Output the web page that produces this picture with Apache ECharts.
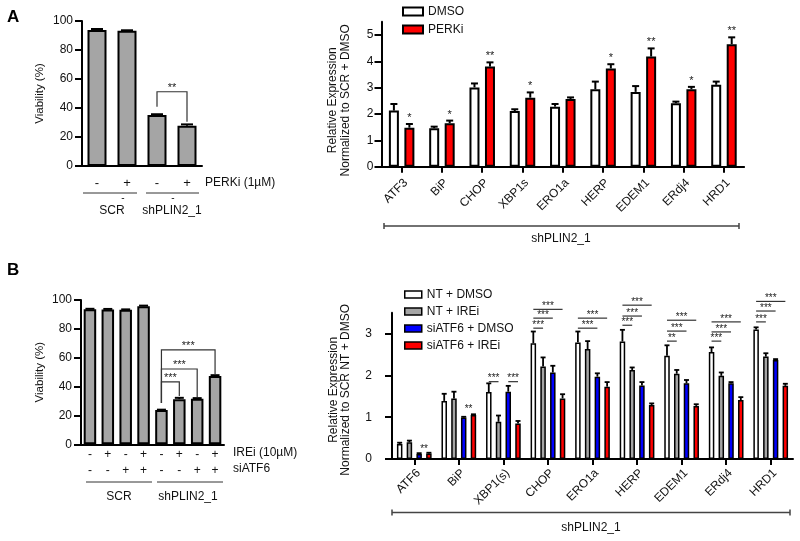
<!DOCTYPE html>
<html><head><meta charset="utf-8">
<script src="https://cdn.jsdelivr.net/npm/echarts@6/dist/echarts.min.js"></script>
<style>html,body{margin:0;padding:0;background:#fff}#c{width:800px;height:541px}</style>
</head><body><div id="c"></div><script>
// ================= DATA =================
// Panel A (left): viability
const aLeftPERKi = ['-', '+', '-', '+'];
const aLeftViability = [93.8, 93.3, 35.2, 27.8];
const aLeftErrTop = [94.5, 93.6, 35.7, 28.7];
const aLeftBrackets = [[2, 3, 40.9, 30.6, 51.2]];      // [catA, catB, yA, yB, yTop]
const aLeftBracketLabels = ['**'];

// Panel A (right): relative expression
const aGenes = ['ATF3', 'BiP', 'CHOP', 'XBP1s', 'ERO1a', 'HERP', 'EDEM1', 'ERdj4', 'HRD1'];
const aDMSO = [2.13, 1.46, 3.01, 2.11, 2.28, 2.94, 2.84, 2.41, 3.11];
const aDMSOErrTop = [2.38, 1.52, 3.16, 2.18, 2.38, 3.23, 3.06, 2.47, 3.23];
const aPERKi = [1.48, 1.65, 3.80, 2.62, 2.57, 3.73, 4.18, 2.94, 4.65];
const aPERKiErrTop = [1.62, 1.75, 3.96, 2.82, 2.63, 3.89, 4.49, 3.03, 4.91];
const aSig = ['*', '*', '**', '*', '', '*', '**', '*', '**'];
const aYTicks = [0, 1, 2, 3, 4, 5];

// Panel B (left): viability
const bIREi = ['-', '+', '-', '+', '-', '+', '-', '+'];
const bSiATF6 = ['-', '-', '+', '+', '-', '-', '+', '+'];
const bLeftViability = [93.6, 93.5, 93.2, 95.7, 23.7, 31.3, 31.5, 47.3];
const bLeftErrTop = [93.9, 93.8, 93.5, 96.1, 24.0, 32.2, 32.0, 47.9];
const bLeftBrackets = [[4, 5, 28.6, 33.5, 43.2], [4, 6, 28.6, 32.8, 52.2], [4, 7, 28.6, 48.0, 65.4]];
const bLeftBracketLabels = ['***', '***', '***'];

// Panel B (right): relative expression
const bGenes = ['ATF6', 'BiP', 'XBP1(s)', 'CHOP', 'ERO1a', 'HERP', 'EDEM1', 'ERdj4', 'HRD1'];
const ntDMSO = [0.36, 1.39, 1.60, 2.77, 2.79, 2.81, 2.47, 2.56, 3.10];
const ntDMSOErrTop = [0.39, 1.56, 1.81, 3.05, 3.05, 3.09, 2.72, 2.67, 3.15];
const ntIREi = [0.40, 1.45, 0.89, 2.21, 2.63, 2.13, 2.04, 1.99, 2.45];
const ntIREiErrTop = [0.44, 1.61, 1.04, 2.43, 2.82, 2.19, 2.13, 2.07, 2.53];
const siDMSO = [0.12, 0.99, 1.61, 2.07, 1.97, 1.76, 1.81, 1.81, 2.37];
const siDMSOErrTop = [0.14, 1.01, 1.75, 2.23, 2.05, 1.84, 1.89, 1.84, 2.39];
const siIREi = [0.13, 1.05, 0.85, 1.45, 1.73, 1.29, 1.27, 1.41, 1.75];
const siIREiErrTop = [0.15, 1.07, 0.91, 1.55, 1.84, 1.33, 1.31, 1.48, 1.80];
const bYTicks = [0, 1, 2, 3];
// [category, fromBar, toBar, y, drawLine]
const bRightSig = [
  [0, 2, 3, 0.24, 0], [1, 2, 3, 1.19, 0],
  [2, 0, 1, 1.85, 1], [2, 2, 3, 1.85, 1],
  [3, 0, 1, 3.13, 1], [3, 0, 2, 3.37, 1], [3, 0, 3, 3.58, 1],
  [4, 0, 2, 3.13, 1], [4, 0, 3, 3.37, 1],
  [5, 0, 1, 3.20, 1], [5, 0, 2, 3.42, 1], [5, 0, 3, 3.68, 1],
  [6, 0, 1, 2.82, 1], [6, 0, 2, 3.06, 1], [6, 0, 3, 3.32, 1],
  [7, 0, 1, 2.82, 1], [7, 0, 2, 3.04, 1], [7, 0, 3, 3.28, 1],
  [8, 0, 1, 3.28, 1], [8, 0, 2, 3.54, 1], [8, 0, 3, 3.77, 1]
];
const bRightSigLabels = ['**', '**', '***', '***', '***', '***', '***', '***', '***',
  '***', '***', '***', '**', '***', '***', '***', '***', '***', '***', '***', '***'];

// ================= CHART =================
const FF = "'Liberation Sans', Arial, Helvetica, sans-serif";
const chart = echarts.init(document.getElementById('c'), null, {renderer: 'canvas', width: 800, height: 541});

const AXL = {lineStyle: {color: '#000', width: 2}};
const TXT = '#111';

function errRender(spacing, nSlots, capW, lw) {
  return function (params, api) {
    const cat = api.value(0), v = api.value(1), t = api.value(2), slot = api.value(3);
    const off = (slot - (nSlots - 1) / 2) * spacing;
    const p0 = api.coord([cat, v]), p1 = api.coord([cat, t]);
    const x = p0[0] + off;
    const st = {stroke: '#000', lineWidth: lw};
    return {type: 'group', children: [
      {type: 'line', shape: {x1: x, y1: p0[1], x2: x, y2: p1[1]}, style: st},
      {type: 'line', shape: {x1: x - capW / 2, y1: p1[1], x2: x + capW / 2, y2: p1[1]}, style: st}
    ]};
  };
}
function bracketRender(labels) {
  return function (params, api) {
    const ca = api.value(0), cb = api.value(1);
    const p1 = api.coord([ca, api.value(2)]), p2 = api.coord([ca, api.value(4)]);
    const p3 = api.coord([cb, api.value(4)]), p4 = api.coord([cb, api.value(3)]);
    return {type: 'group', children: [
      {type: 'polyline', shape: {points: [p1, p2, p3, p4]}, style: {stroke: '#333', fill: null, lineWidth: 1.2}},
      {type: 'text', x: (p2[0] + p3[0]) / 2, y: p2[1] - 4,
        style: {text: labels[params.dataIndex], fontSize: 11, fontFamily: FF, fill: '#222', align: 'center', verticalAlign: 'middle'}}
    ]};
  };
}
function starRender(labels, spacing, nSlots, slot, dy) {
  return function (params, api) {
    const p = api.coord([api.value(0), api.value(1)]);
    const off = (slot - (nSlots - 1) / 2) * spacing;
    return {type: 'text', x: p[0] + off, y: p[1] - dy,
      style: {text: labels[params.dataIndex], fontSize: 11, fontFamily: FF, fill: '#222', align: 'center', verticalAlign: 'middle'}};
  };
}
function sigRender(labels, spacing, nSlots) {
  return function (params, api) {
    const cat = api.value(0), a = api.value(1), b = api.value(2), y = api.value(3), line = api.value(4);
    const p = api.coord([cat, y]);
    const xa = p[0] + (a - (nSlots - 1) / 2) * spacing;
    const xb = p[0] + (b - (nSlots - 1) / 2) * spacing;
    const children = [];
    if (line) children.push({type: 'line', shape: {x1: xa, y1: p[1], x2: xb, y2: p[1]}, style: {stroke: '#333', lineWidth: 1.2}});
    children.push({type: 'text', x: (xa + xb) / 2, y: line ? p[1] - 3 : p[1],
      style: {text: labels[params.dataIndex], fontSize: 10, fontFamily: FF, fill: '#222', align: 'center', verticalAlign: 'middle'}});
    return {type: 'group', children};
  };
}

const A_SP = 15.5, B_SP = 9.75;

const option = {
  animation: false,
  textStyle: {fontFamily: FF, color: TXT},
  grid: [
    {left: 82, top: 21, width: 120, height: 145, outerBoundsMode: 'none', containLabel: false},
    {left: 381.5, top: 21.8, width: 362.6, height: 144.9, outerBoundsMode: 'none', containLabel: false},
    {left: 81, top: 300, width: 143, height: 144.3, outerBoundsMode: 'none', containLabel: false},
    {left: 392, top: 312.7, width: 401, height: 146.3, outerBoundsMode: 'none', containLabel: false}
  ],
  legend: [
    {data: ['DMSO', 'PERKi'], orient: 'vertical', left: 402, top: 5, padding: 0, itemWidth: 20, itemHeight: 8, itemGap: 5,
      icon: 'rect', itemStyle: {borderColor: '#000', borderWidth: 2},
      textStyle: {fontSize: 12, fontFamily: FF, color: TXT, lineHeight: 13}},
    {data: ['NT + DMSO', 'NT + IREi', 'siATF6 + DMSO', 'siATF6 + IREi'], orient: 'vertical', left: 404, top: 288, padding: 0,
      itemWidth: 17, itemHeight: 7, itemGap: 4, icon: 'rect', itemStyle: {borderColor: '#000', borderWidth: 1.5},
      textStyle: {fontSize: 12, fontFamily: FF, color: TXT, lineHeight: 13}}
  ],
  xAxis: [
    {type: 'category', gridIndex: 0, data: aLeftPERKi.map((s, i) => 'a' + i), axisLine: AXL, axisTick: {show: false},
      axisLabel: {formatter: (v, i) => aLeftPERKi[i], fontSize: 13, margin: 11, color: TXT}},
    {type: 'category', gridIndex: 1, data: aGenes, axisLine: AXL,
      axisTick: {show: true, alignWithLabel: true, length: 6, lineStyle: {width: 2, color: '#000'}},
      axisLabel: {rotate: 45, fontSize: 12, margin: 10, color: TXT, interval: 0, verticalAlign: 'top'}},
    {type: 'category', gridIndex: 2, data: bIREi.map((s, i) => 'b' + i), axisLine: AXL, axisTick: {show: false},
      axisLabel: {formatter: (v, i) => bIREi[i] + '\n' + bSiATF6[i], fontSize: 12, lineHeight: 16, margin: 2, color: TXT, interval: 0}},
    {type: 'category', gridIndex: 3, data: bGenes, axisLine: AXL,
      axisTick: {show: true, alignWithLabel: true, length: 6, lineStyle: {width: 2, color: '#000'}},
      axisLabel: {rotate: 45, fontSize: 12, margin: 8, color: TXT, interval: 0, verticalAlign: 'top'}}
  ],
  yAxis: [
    {type: 'value', gridIndex: 0, min: 0, max: 100, interval: 20, axisLine: {show: true, ...AXL},
      axisTick: {show: true, length: 7, lineStyle: {width: 2, color: '#000'}}, splitLine: {show: false},
      axisLabel: {fontSize: 12, margin: 9, color: TXT},
      name: 'Viability (%)', nameLocation: 'middle', nameGap: 36, nameTextStyle: {fontSize: 11.5, color: TXT}},
    {type: 'value', gridIndex: 1, min: 0, max: 5.5, axisLine: {show: true, ...AXL},
      axisTick: {show: true, length: 7, lineStyle: {width: 2, color: '#000'}, customValues: aYTicks}, splitLine: {show: false},
      axisLabel: {fontSize: 12, margin: 8, color: TXT, customValues: aYTicks},
      name: 'Relative Expression\nNormalized to SCR + DMSO', nameLocation: 'middle', nameGap: 30,
      nameTextStyle: {fontSize: 12, lineHeight: 12.5, color: TXT, padding: [0, 12, 0, 0]}},
    {type: 'value', gridIndex: 2, min: 0, max: 100, interval: 20, axisLine: {show: true, ...AXL},
      axisTick: {show: true, length: 7, lineStyle: {width: 2, color: '#000'}}, splitLine: {show: false},
      axisLabel: {fontSize: 12, margin: 9, color: TXT},
      name: 'Viability (%)', nameLocation: 'middle', nameGap: 35, nameTextStyle: {fontSize: 11.5, color: TXT}},
    {type: 'value', gridIndex: 3, min: 0, max: 3.5, axisLine: {show: true, ...AXL},
      axisTick: {show: true, length: 7, lineStyle: {width: 2, color: '#000'}, customValues: bYTicks}, splitLine: {show: false},
      axisLabel: {fontSize: 12, margin: 20, color: TXT, customValues: bYTicks},
      name: 'Relative Expression\nNormalized to SCR NT + DMSO', nameLocation: 'middle', nameGap: 40,
      nameTextStyle: {fontSize: 12, lineHeight: 12.5, color: TXT, padding: [0, 8, 0, 0]}}
  ],
  series: [
    // ---- A left ----
    {type: 'bar', xAxisIndex: 0, yAxisIndex: 0, data: aLeftViability, barWidth: 19,
      itemStyle: {color: '#a5a5a5', borderColor: '#000', borderWidth: 2}},
    {type: 'custom', xAxisIndex: 0, yAxisIndex: 0, clip: false, renderItem: errRender(0, 1, 12, 2),
      data: aLeftErrTop.map((t, i) => [i, aLeftViability[i], t, 0])},
    {type: 'custom', xAxisIndex: 0, yAxisIndex: 0, clip: false, renderItem: bracketRender(aLeftBracketLabels),
      data: aLeftBrackets},
    // ---- A right ----
    {name: 'DMSO', type: 'bar', xAxisIndex: 1, yAxisIndex: 1, data: aDMSO, barWidth: 10, barGap: '55%',
      itemStyle: {color: '#ffffff', borderColor: '#000', borderWidth: 2}},
    {name: 'PERKi', type: 'bar', xAxisIndex: 1, yAxisIndex: 1, data: aPERKi, barWidth: 10, barGap: '55%',
      itemStyle: {color: '#ff0000', borderColor: '#000', borderWidth: 2}},
    {type: 'custom', xAxisIndex: 1, yAxisIndex: 1, clip: false, renderItem: errRender(A_SP, 2, 7, 2),
      data: aDMSOErrTop.map((t, i) => [i, aDMSO[i], t, 0]).concat(aPERKiErrTop.map((t, i) => [i, aPERKi[i], t, 1]))},
    {type: 'custom', xAxisIndex: 1, yAxisIndex: 1, clip: false, renderItem: starRender(aSig, A_SP, 2, 1, 6),
      data: aPERKiErrTop.map((t, i) => [i, t])},
    // ---- B left ----
    {type: 'bar', xAxisIndex: 2, yAxisIndex: 2, data: bLeftViability, barWidth: 12.5,
      itemStyle: {color: '#a5a5a5', borderColor: '#000', borderWidth: 2}},
    {type: 'custom', xAxisIndex: 2, yAxisIndex: 2, clip: false, renderItem: errRender(0, 1, 9, 2),
      data: bLeftErrTop.map((t, i) => [i, bLeftViability[i], t, 0])},
    {type: 'custom', xAxisIndex: 2, yAxisIndex: 2, clip: false, renderItem: bracketRender(bLeftBracketLabels),
      data: bLeftBrackets},
    // ---- B right ----
    {name: 'NT + DMSO', type: 'bar', xAxisIndex: 3, yAxisIndex: 3, data: ntDMSO, barWidth: 5.5, barGap: '77%',
      itemStyle: {color: '#ffffff', borderColor: '#000', borderWidth: 1.5}},
    {name: 'NT + IREi', type: 'bar', xAxisIndex: 3, yAxisIndex: 3, data: ntIREi, barWidth: 5.5, barGap: '77%',
      itemStyle: {color: '#a5a5a5', borderColor: '#000', borderWidth: 1.5}},
    {name: 'siATF6 + DMSO', type: 'bar', xAxisIndex: 3, yAxisIndex: 3, data: siDMSO, barWidth: 5.5, barGap: '77%',
      itemStyle: {color: '#0000ff', borderColor: '#000', borderWidth: 1.5}},
    {name: 'siATF6 + IREi', type: 'bar', xAxisIndex: 3, yAxisIndex: 3, data: siIREi, barWidth: 5.5, barGap: '77%',
      itemStyle: {color: '#ff0000', borderColor: '#000', borderWidth: 1.5}},
    {type: 'custom', xAxisIndex: 3, yAxisIndex: 3, clip: false, renderItem: errRender(B_SP, 4, 5, 1.8),
      data: [].concat(
        ntDMSOErrTop.map((t, i) => [i, ntDMSO[i], t, 0]),
        ntIREiErrTop.map((t, i) => [i, ntIREi[i], t, 1]),
        siDMSOErrTop.map((t, i) => [i, siDMSO[i], t, 2]),
        siIREiErrTop.map((t, i) => [i, siIREi[i], t, 3]))},
    {type: 'custom', xAxisIndex: 3, yAxisIndex: 3, clip: false, renderItem: sigRender(bRightSigLabels, B_SP, 4),
      data: bRightSig}
  ],
  graphic: [
    // Panel letters
    {type: 'text', left: 7, top: 9, style: {text: 'A', font: "bold 17px " + FF, fill: '#000'}},
    {type: 'text', left: 7, top: 262, style: {text: 'B', font: "bold 17px " + FF, fill: '#000'}},
    // A left annotations
    {type: 'text', x: 205, y: 183, style: {text: 'PERKi (1\u00b5M)', fontSize: 12, fontFamily: FF, fill: TXT, verticalAlign: 'middle'}},
    {type: 'line', shape: {x1: 83, y1: 193, x2: 137, y2: 193}, style: {stroke: '#333', lineWidth: 1}},
    {type: 'line', shape: {x1: 146, y1: 193, x2: 199, y2: 193}, style: {stroke: '#333', lineWidth: 1}},
    {type: 'text', x: 123, y: 198, style: {text: '-', fontSize: 10, fontFamily: FF, fill: TXT, align: 'center', verticalAlign: 'middle'}},
    {type: 'text', x: 173, y: 198, style: {text: '-', fontSize: 10, fontFamily: FF, fill: TXT, align: 'center', verticalAlign: 'middle'}},
    {type: 'text', x: 112, y: 211, style: {text: 'SCR', fontSize: 12, fontFamily: FF, fill: TXT, align: 'center', verticalAlign: 'middle'}},
    {type: 'text', x: 172, y: 211, style: {text: 'shPLIN2_1', fontSize: 12, fontFamily: FF, fill: TXT, align: 'center', verticalAlign: 'middle'}},
    // A right range
    {type: 'polyline', shape: {points: [[384, 223], [384, 229], [384, 226], [739, 226], [739, 223], [739, 229]]}, style: {stroke: '#444', fill: null, lineWidth: 1.5}},
    {type: 'text', x: 561, y: 239, style: {text: 'shPLIN2_1', fontSize: 12, fontFamily: FF, fill: TXT, align: 'center', verticalAlign: 'middle'}},
    // B left annotations
    {type: 'text', x: 233, y: 453, style: {text: 'IREi (10\u00b5M)', fontSize: 12, fontFamily: FF, fill: TXT, verticalAlign: 'middle'}},
    {type: 'text', x: 233, y: 469, style: {text: 'siATF6', fontSize: 12, fontFamily: FF, fill: TXT, verticalAlign: 'middle'}},
    {type: 'line', shape: {x1: 86, y1: 482, x2: 152, y2: 482}, style: {stroke: '#333', lineWidth: 1}},
    {type: 'line', shape: {x1: 157, y1: 482, x2: 223, y2: 482}, style: {stroke: '#333', lineWidth: 1}},
    {type: 'text', x: 119, y: 497, style: {text: 'SCR', fontSize: 12, fontFamily: FF, fill: TXT, align: 'center', verticalAlign: 'middle'}},
    {type: 'text', x: 188, y: 497, style: {text: 'shPLIN2_1', fontSize: 12, fontFamily: FF, fill: TXT, align: 'center', verticalAlign: 'middle'}},
    // B right range
    {type: 'polyline', shape: {points: [[392, 509.5], [392, 515.5], [392, 512.5], [790, 512.5], [790, 509.5], [790, 515.5]]}, style: {stroke: '#444', fill: null, lineWidth: 1.5}},
    {type: 'text', x: 591, y: 528, style: {text: 'shPLIN2_1', fontSize: 12, fontFamily: FF, fill: TXT, align: 'center', verticalAlign: 'middle'}}
  ]
};
chart.setOption(option);
</script></body></html>
